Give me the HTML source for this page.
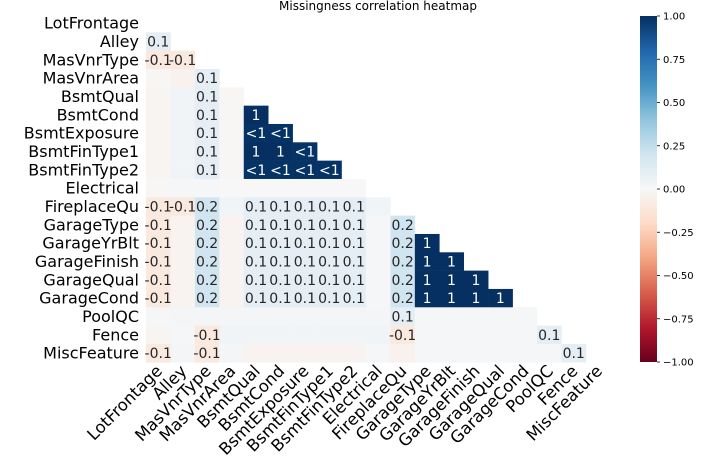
<!DOCTYPE html>
<html><head><meta charset="utf-8"><style>
body{margin:0;background:#fff;}
svg{display:block;font-family:"DejaVu Sans","Liberation Sans",sans-serif;}
</style></head><body>
<svg id="chart" width="707" height="467">
<defs>
<linearGradient id="cbg" x1="0" y1="1" x2="0" y2="0">
<stop offset="0" stop-color="#67001f"/><stop offset="0.1" stop-color="#b2182b"/><stop offset="0.2" stop-color="#d6604d"/><stop offset="0.3" stop-color="#f4a582"/><stop offset="0.4" stop-color="#fddbc7"/><stop offset="0.5" stop-color="#f7f7f7"/><stop offset="0.6" stop-color="#d1e5f0"/><stop offset="0.7" stop-color="#92c5de"/><stop offset="0.8" stop-color="#4393c3"/><stop offset="0.9" stop-color="#2166ac"/><stop offset="1" stop-color="#053061"/>
</linearGradient>
</defs>
<text x="378" y="10" font-size="12" text-anchor="middle" fill="#000">Missingness correlation heatmap</text>
<g id="cells"></g>
<g id="rowlabels"></g>
<g id="collabels"></g>
<rect x="640" y="16" width="17" height="346" fill="url(#cbg)"/>
<g id="cbticks"></g>
</svg>
<script>
const categories=["LotFrontage","Alley","MasVnrType","MasVnrArea","BsmtQual","BsmtCond","BsmtExposure","BsmtFinType1","BsmtFinType2","Electrical","FireplaceQu","GarageType","GarageYrBlt","GarageFinish","GarageQual","GarageCond","PoolQC","Fence","MiscFeature"];
const corrRows=[
[],
[0.1],
[-0.1,-0.1],
[-0.01,-0.04,0.1],
[-0.02,0.03,0.1,-0.01],
[-0.02,0.03,0.1,-0.01,1],
[-0.02,0.03,0.1,-0.01,0.99,0.99],
[-0.02,0.03,0.1,-0.01,1,1,0.99],
[-0.02,0.03,0.1,-0.01,0.99,0.99,0.99,0.99],
[-0.01,0.01,0.01,0.0,0.0,0.0,0.0,0.0,0.0],
[-0.1,-0.1,0.2,0.03,0.1,0.1,0.1,0.1,0.1,0.03],
[-0.1,-0.03,0.2,-0.03,0.1,0.1,0.1,0.1,0.1,0.01,0.2],
[-0.1,-0.03,0.2,-0.03,0.1,0.1,0.1,0.1,0.1,0.01,0.2,1],
[-0.1,-0.03,0.2,-0.03,0.1,0.1,0.1,0.1,0.1,0.01,0.2,1,1],
[-0.1,-0.03,0.2,-0.03,0.1,0.1,0.1,0.1,0.1,0.01,0.2,1,1,1],
[-0.1,-0.03,0.2,-0.03,0.1,0.1,0.1,0.1,0.1,0.01,0.2,1,1,1,1],
[0.01,0.02,0.02,0.02,0.02,0.02,0.02,0.02,0.02,0.02,0.1,0.01,0.01,0.01,0.01,0.01],
[-0.02,0.01,-0.1,0.03,0.03,0.03,0.03,0.03,0.03,0.03,-0.1,0.01,0.01,0.01,0.01,0.01,0.1],
[-0.1,0.02,-0.1,0.02,-0.03,-0.03,-0.03,-0.03,-0.03,0.01,-0.04,0.01,0.01,0.01,0.01,0.01,0.01,0.1]
];
const cbTicks=[1,0.75,0.5,0.25,0,-0.25,-0.5,-0.75,-1];
const X0=146,CW=24.44,Y0=14,RH=18.33;
const xS=j=>X0+j*CW, yS=i=>Y0+i*RH;
const stops=[[103,0,31],[178,24,43],[214,96,77],[244,165,130],[253,219,199],[247,247,247],[209,229,240],[146,197,222],[67,147,195],[33,102,172],[5,48,97]];
function color(v){let t=(v+1)/2*10;let k=Math.min(9,Math.floor(t));let f=t-k;const a=stops[k],b=stops[k+1];return `rgb(${a.map((c,n)=>Math.round(c+(b[n]-c)*f)).join(',')})`;}
function label(v){if(v===1)return "1";if(v>0.95)return "<1";if(Math.abs(v)<0.05)return "";return (Math.round(v*10)/10).toFixed(1);}
const NS="http://www.w3.org/2000/svg";
const cells=document.getElementById('cells');
corrRows.forEach((row,i)=>row.forEach((v,j)=>{
 const r=document.createElementNS(NS,'rect');
 r.setAttribute('x',xS(j));r.setAttribute('y',yS(i));r.setAttribute('width',CW+0.3);r.setAttribute('height',RH+0.3);r.setAttribute('fill',color(v));
 
 
 cells.appendChild(r);
 const L=label(v);
 if(L){const t=document.createElementNS(NS,'text');
 t.setAttribute('x',xS(j)+CW/2);t.setAttribute('y',yS(i)+RH/2+5);t.setAttribute('font-size','14');t.setAttribute('text-anchor','middle');
 t.setAttribute('fill',v>0.6?'#ffffff':'#262626');t.textContent=L;
 
 
 cells.appendChild(t);}
}));
const rl=document.getElementById('rowlabels'),cl=document.getElementById('collabels');
categories.forEach((c,i)=>{
 const t=document.createElementNS(NS,'text');
 t.setAttribute('x',139);t.setAttribute('y',yS(i)+RH/2+5.5);t.setAttribute('font-size','16');t.setAttribute('text-anchor','end');t.setAttribute('fill','#000');t.textContent=c;
 
 
 rl.appendChild(t);
 const u=document.createElementNS(NS,'text');
 const x=xS(i)+CW/2+5,y=372;
 u.setAttribute('x',x);u.setAttribute('y',y);u.setAttribute('font-size','16.5');u.setAttribute('text-anchor','end');u.setAttribute('fill','#000');
 u.setAttribute('transform',`rotate(-45 ${x} ${y})`);u.textContent=c;
 
 
 cl.appendChild(u);
});
const cb=document.getElementById('cbticks');
cbTicks.forEach(v=>{
 const y=16+(1-v)/2*346;
 const l=document.createElementNS(NS,'line');
 l.setAttribute('x1',657);l.setAttribute('x2',660);l.setAttribute('y1',y);l.setAttribute('y2',y);l.setAttribute('stroke','#000');l.setAttribute('stroke-width','0.8');
 
 
 cb.appendChild(l);
 const t=document.createElementNS(NS,'text');
 t.setAttribute('x',663);t.setAttribute('y',y+3.5);t.setAttribute('font-size','10');t.setAttribute('fill','#000');
 t.textContent=(v<0?'\u2212':'')+Math.abs(v).toFixed(2);
 
 
 cb.appendChild(t);
});
</script>
</body></html>
